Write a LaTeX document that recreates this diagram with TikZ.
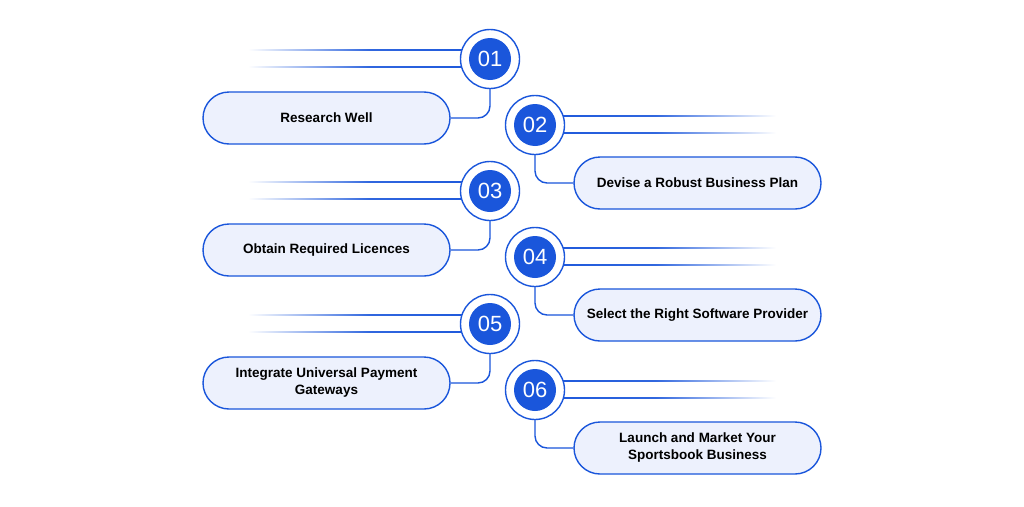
\documentclass[tikz,border=0pt]{standalone}
\usepackage{fontspec}
\setmainfont{Liberation Sans}
\usetikzlibrary{positioning}
\definecolor{stepblue}{HTML}{1A56DB}
\definecolor{boxfill}{HTML}{EDF1FD}
\tikzset{
  ring/.style={circle, draw=stepblue, line width=1.4pt, fill=white, minimum size=59pt, inner sep=0pt},
  num/.style={circle, fill=stepblue, text=white, minimum size=42pt, inner sep=0pt, font=\fontsize{22}{22}\selectfont},
  stepbox/.style={rounded corners=26pt, draw=stepblue, line width=1.4pt, fill=boxfill, minimum width=247pt, minimum height=52pt, align=center, font=\bfseries\fontsize{13.5}{17}\selectfont},
  link/.style={draw=stepblue, line width=1.4pt, rounded corners=12pt}
}
\begin{document}
\begin{tikzpicture}[x=1pt,y=-1pt]
    % canvas
    \useasboundingbox[fill=white] (0,0) rectangle (1024,506);
    % left steps
    \foreach \n/\y/\t in {01/59/Research Well, 03/191/Obtain Required Licences, 05/324/{Integrate Universal Payment\\Gateways}} {
        \shade[left color=white, right color=stepblue, middle color=stepblue!90] (248,\y-9.7) rectangle (490,\y-8.1);
        \shade[left color=white, right color=stepblue, middle color=stepblue!90] (248,\y+7.3) rectangle (490,\y+8.9);
        \node[ring] (r\n) at (490,\y) {};
        \node[num] (c\n) at (490,\y) {\n};
        \node[stepbox] (b\n) at (326.5,\y+59) {\t};
        \draw[link] (r\n.south) |- (b\n.east);
    }
    % right steps
    \foreach \n/\y/\t in {02/125/Devise a Robust Business Plan, 04/257/Select the Right Software Provider, 06/390/{Launch and Market Your\\Sportsbook Business}} {
        \shade[left color=stepblue, right color=white, middle color=stepblue!90] (535,\y-9.7) rectangle (776,\y-8.1);
        \shade[left color=stepblue, right color=white, middle color=stepblue!90] (535,\y+7.3) rectangle (776,\y+8.9);
        \node[ring] (r\n) at (535,\y) {};
        \node[num] (c\n) at (535,\y) {\n};
        \node[stepbox] (b\n) at (697.5,\y+58) {\t};
        \draw[link] (r\n.south) |- (b\n.west);
    }
\end{tikzpicture}
\end{document}
